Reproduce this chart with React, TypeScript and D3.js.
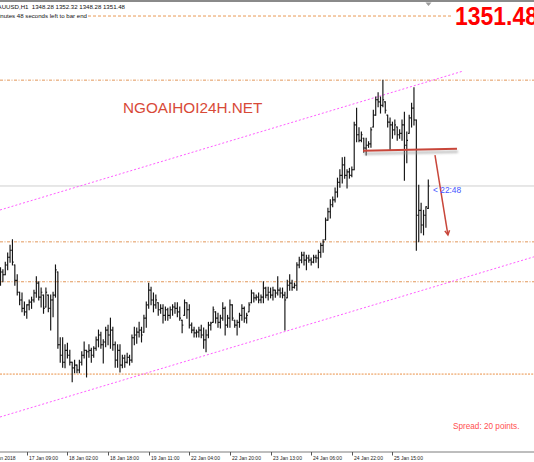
import React from 'react';
import * as d3 from 'd3';

const W = 534;
const H = 462;

const opens = [
  1338.0,1339.2,1338.8,1340.2,1341.3,1342.3,1340.2,1338.0,1336.3,1335.2,
  1334.0,1333.5,1334.5,1334.9,1335.2,1336.2,1337.6,1335.6,1335.9,1334.2,
  1335.9,1334.0,1335.2,1335.9,1339.2,1328.8,1327.3,1326.3,1328.0,1327.3,
  1326.3,1325.5,1325.9,1325.2,1326.3,1327.3,1328.0,1327.8,1328.0,1327.3,
  1328.3,1329.5,1330.2,1328.8,1329.2,1330.9,1330.2,
  1330.9,1328.8,1326.6,1328.0,1325.9,1326.9,1326.3,1327.0,1326.6,1329.8,
  1330.2,1330.6,1330.9,1330.6,1332.6,1334.5,1336.6,1335.2,1334.5,1334.8,
  1333.8,1334.0,1333.0,1333.8,1333.0,1333.8,1334.2,1334.0,1333.5,1332.3,
  1333.0,1334.8,1333.8,1331.6,1330.9,1330.5,1330.6,1330.9,1330.2,1329.5,
  1330.2,1331.6,
  1332.0,1333.5,1332.6,1332.0,1332.6,1334.0,1331.6,1332.6,1334.5,1332.3,
  1331.6,1332.0,1333.0,1334.0,1332.6,1333.5,1334.8,1336.2,1335.5,1335.6,
  1335.2,1335.6,1336.9,1335.9,1336.3,1335.9,1336.6,1336.2,1336.6,1336.2,
  1335.9,1335.5,1337.3,1337.6,1337.0,1337.3,1340.2,1340.9,1341.6,1340.9,
  1341.2,1340.9,1340.6,1341.3,1341.2,
  1342.0,1343.0,1343.8,1346.6,1347.8,1348.8,1349.5,1350.6,1352.0,1353.0,
  1354.5,1353.0,1353.5,1353.0,1353.8,1360.2,1358.8,1358.0,1358.3,1356.9,
  1357.3,1357.5,1359.9,1361.6,1363.8,1363.5,1363.0,1363.5,1361.6,1360.6,
  1360.2,1359.5,1359.9,1358.8,1359.0,1360.2,1357.3,1359.0,1361.2,1362.6,
  1360.9,1347.3,1348.0,1345.9,1347.3,1348.28,
];

const highs = [
  1339.8,1339.5,1340.6,1341.9,1343.0,1343.8,1340.2,1338.8,1336.3,1336.2,
  1334.9,1334.5,1335.2,1335.6,1336.6,1338.5,1337.8,1336.9,1335.9,1336.9,
  1335.9,1335.9,1336.3,1340.2,1339.2,1329.8,1329.8,1328.8,1329.0,1328.0,
  1326.3,1326.6,1325.9,1326.6,1327.8,1329.2,1328.0,1328.8,1328.3,1328.5,
  1329.9,1330.9,1330.6,1329.5,1331.3,1331.6,1332.6,
  1331.3,1329.2,1328.8,1328.8,1327.3,1327.3,1327.6,1327.3,1330.2,1331.3,
  1331.2,1332.0,1331.3,1333.0,1334.9,1337.6,1337.0,1336.2,1335.9,1334.8,
  1334.5,1334.5,1334.2,1334.0,1334.2,1334.5,1334.8,1334.8,1334.2,1332.3,
  1335.2,1334.8,1334.5,1331.9,1331.3,1330.9,1331.3,1331.6,1331.2,1330.9,
  1332.0,1332.0,
  1334.2,1333.5,1333.3,1333.0,1334.8,1334.2,1333.0,1335.2,1334.5,1332.3,
  1332.3,1333.3,1334.5,1334.2,1333.3,1334.8,1336.6,1336.2,1335.9,1336.2,
  1335.9,1337.8,1337.0,1337.0,1336.9,1337.0,1336.6,1338.5,1336.9,1336.9,
  1336.3,1338.0,1338.8,1338.0,1337.6,1340.5,1341.3,1342.0,1342.0,1341.6,
  1341.6,1341.2,1341.6,1341.6,1342.3,
  1343.3,1343.8,1346.9,1348.3,1349.5,1349.9,1351.2,1352.6,1353.8,1355.5,
  1355.6,1353.8,1354.0,1354.2,1360.6,1362.6,1359.8,1359.2,1358.3,1358.3,
  1357.8,1359.8,1362.3,1364.2,1364.8,1364.2,1366.6,1363.5,1361.6,1361.2,
  1360.6,1360.9,1359.9,1359.5,1360.9,1362.0,1359.2,1361.6,1363.3,1365.5,
  1360.9,1351.6,1349.0,1348.0,1348.5,1352.32,
];

const lows = [
  1337.3,1337.8,1338.8,1339.5,1340.6,1340.2,1337.3,1335.9,1334.5,1333.5,
  1333.0,1332.6,1333.8,1334.0,1334.9,1335.6,1335.2,1334.2,1333.3,1334.2,
  1333.5,1330.9,1332.8,1335.6,1328.3,1326.3,1325.6,1325.5,1326.9,1325.9,
  1323.5,1324.8,1324.8,1324.8,1325.9,1326.9,1324.2,1327.0,1326.3,1327.0,
  1328.0,1328.5,1328.3,1326.2,1328.5,1328.8,1328.3,
  1328.0,1325.6,1325.6,1324.9,1325.5,1325.6,1326.2,1325.9,1326.3,1328.8,
  1329.0,1329.9,1329.2,1330.6,1331.3,1334.0,1334.5,1333.5,1334.0,1333.0,
  1333.3,1331.9,1332.3,1332.3,1332.6,1333.0,1333.3,1332.8,1332.3,1330.5,
  1333.0,1332.6,1331.2,1330.5,1329.9,1329.9,1329.9,1329.8,1328.3,1327.8,
  1329.8,1330.9,
  1332.0,1331.9,1331.3,1331.2,1332.3,1330.2,1331.3,1331.3,1332.3,1331.3,
  1330.2,1331.3,1332.3,1332.0,1331.9,1333.5,1334.8,1334.9,1335.2,1334.8,
  1334.8,1334.8,1335.5,1335.2,1335.5,1335.2,1335.6,1335.9,1335.6,1335.5,
  1330.9,1335.5,1336.6,1336.6,1336.9,1336.6,1339.8,1340.5,1340.2,1339.5,
  1340.6,1340.2,1340.5,1340.6,1339.8,
  1341.3,1342.0,1343.8,1346.6,1346.9,1348.5,1349.2,1349.9,1351.3,1351.9,
  1352.6,1351.2,1352.6,1352.8,1353.8,1357.8,1357.8,1357.8,1356.3,1355.9,
  1357.0,1357.0,1359.9,1361.6,1362.8,1361.9,1362.8,1361.9,1359.9,1356.6,
  1358.3,1358.8,1358.0,1358.3,1358.0,1352.3,1354.8,1359.0,1359.9,1360.2,
  1342.3,1343.5,1344.8,1344.5,1345.6,1348.28,
];

const closes = [
  1339.2,1338.8,1340.2,1341.3,1342.3,1340.6,1338.0,1336.3,1335.2,1334.0,
  1333.5,1334.5,1334.9,1335.2,1336.2,1337.6,1335.6,1336.3,1334.0,1336.3,
  1334.0,1335.2,1335.9,1339.5,1328.8,1327.3,1326.3,1328.0,1327.3,1326.3,
  1325.5,1325.9,1325.2,1326.3,1327.3,1328.0,1327.8,1328.0,1327.3,1328.3,
  1329.5,1330.2,1328.8,1329.2,1330.9,1330.2,1330.9,
  1328.8,1326.6,1328.0,1325.9,1326.9,1326.3,1327.0,1326.6,1329.8,1330.2,
  1330.6,1330.9,1330.2,1332.6,1334.5,1336.6,1335.2,1334.5,1335.2,1333.8,
  1334.0,1333.0,1333.8,1333.0,1333.8,1334.2,1334.0,1333.5,1332.6,1331.6,
  1334.8,1333.8,1331.6,1330.9,1330.5,1330.6,1330.9,1330.2,1329.5,1330.2,
  1331.6,1331.9,
  1333.8,1332.6,1332.0,1332.6,1334.0,1331.6,1332.6,1334.5,1332.6,1331.6,
  1332.0,1333.0,1334.0,1332.6,1333.0,1334.5,1336.2,1335.5,1335.6,1335.2,
  1335.6,1336.9,1335.9,1336.3,1335.9,1336.6,1336.2,1336.6,1336.2,1335.9,
  1335.2,1337.3,1337.6,1337.0,1337.3,1340.2,1340.9,1341.6,1340.9,1341.2,
  1340.9,1340.6,1341.3,1341.2,1342.0,
  1343.0,1343.5,1346.6,1347.8,1348.8,1349.5,1350.6,1352.0,1353.0,1354.5,
  1353.0,1353.5,1353.0,1353.8,1360.2,1358.8,1358.0,1358.8,1356.9,1357.3,
  1357.5,1359.5,1361.6,1363.8,1363.5,1363.0,1363.8,1362.3,1360.6,1360.2,
  1359.5,1360.2,1358.8,1359.0,1360.2,1357.3,1358.0,1361.2,1362.6,1360.9,
  1347.3,1348.0,1345.9,1347.3,1348.5,1351.48,
];

const tickBars = [-6, 11, 28, 45, 62, 79, 96, 113, 130, 147, 164];
const tickLabels = [
  '16 Jan 2018', '17 Jan 09:00', '18 Jan 02:00', '18 Jan 18:00', '19 Jan 11:00',
  '22 Jan 04:00', '22 Jan 20:00', '23 Jan 13:00', '24 Jan 06:00', '24 Jan 22:00', '25 Jan 15:00',
];

const dashLevels = [1366.6, 1343.5, 1337.8];
const topLevel = 1375.76;
const lowLevel = 1324.6;
const bidPrice = 1351.48;

const channelUpper = [{ bar: -0.2, price: 1348.05 }, { bar: 193.1, price: 1367.85 }];
const channelLower = [{ bar: -0.2, price: 1318.48 }, { bar: 223.2, price: 1341.36 }];
const trendLine = [{ bar: 151.7, price: 1356.5 }, { bar: 191.0, price: 1356.8 }];
const arrowLine = [{ bar: 181.8, price: 1355.9 }, { bar: 187.2, price: 1344.5 }];

const titleText = 'XAUUSD,H1  1348.28 1352.32 1348.28 1351.48';
const timerText = '22 minutes 48 seconds left to bar end';

export default function App() {
  const xs = d3.scaleLinear().domain([0, opens.length - 1]).range([0.5, 428.3]);
  const ys = d3.scaleLinear().domain([1313.48, 1377.62]).range([452, 3]);
  const line = d3
    .line<{ bar: number; price: number }>()
    .x((d) => xs(d.bar))
    .y((d) => ys(d.price));

  const a0 = arrowLine[0];
  const a1 = arrowLine[1];
  const ax0 = xs(a0.bar), ay0 = ys(a0.price), ax1 = xs(a1.bar), ay1 = ys(a1.price);
  const ang = Math.atan2(ay1 - ay0, ax1 - ax0);
  const hl = 5;
  const head = [
    [ax1 - hl * Math.cos(ang - 0.5), ay1 - hl * Math.sin(ang - 0.5)],
    [ax1, ay1],
    [ax1 - hl * Math.cos(ang + 0.5), ay1 - hl * Math.sin(ang + 0.5)],
  ];

  const font = '"Liberation Sans", Arial, sans-serif';

  return (
    <div style={{ position: 'fixed', left: 0, top: 0, width: W, height: H }}>
      <svg width={W} height={H} style={{ display: 'block', background: '#fff' }}>
        <defs>
          <filter id="blur" x="-10%" y="-200%" width="120%" height="500%">
            <feGaussianBlur stdDeviation="1" />
          </filter>
        </defs>
        <rect x={0} y={0} width={W} height={H} fill="#fff" />
        {/* top border */}
        <line x1={0} x2={W} y1={1} y2={1} stroke="#8a8a8a" strokeWidth={2} />
        <path d="M425.5,2.5 L431.5,2.5 L428.5,6 Z" fill="#9a9a9a" />

        {/* horizontal levels */}
        <line x1={88} x2={453} y1={ys(topLevel)} y2={ys(topLevel)} stroke="#e99a55" strokeDasharray="3,2" strokeWidth={1} />
        {dashLevels.map((p, i) => (
          <line key={i} x1={0} x2={W} y1={ys(p)} y2={ys(p)} stroke="#e2975a" strokeDasharray="3,1.5,1,1.5" strokeWidth={1} />
        ))}
        <line x1={0} x2={W} y1={ys(lowLevel)} y2={ys(lowLevel)} stroke="#f3c095" strokeDasharray="2,1.2" strokeWidth={1.6} />

        {/* bid line */}
        <line x1={0} x2={W} y1={ys(bidPrice)} y2={ys(bidPrice)} stroke="#cfcfcf" strokeWidth={1} />

        {/* channel */}
        <path d={line(channelUpper) || ''} stroke="#ff5cff" strokeDasharray="2,2" strokeWidth={1} fill="none" />
        <path d={line(channelLower) || ''} stroke="#ff5cff" strokeDasharray="2,2" strokeWidth={1} fill="none" />

        {/* bars */}
        <g stroke="#141414" strokeWidth={1.15}>
          {opens.map((o, i) => {
            const x = xs(i);
            return (
              <g key={i}>
                <line x1={x} x2={x} y1={ys(highs[i]) - 0.5} y2={ys(lows[i]) + 0.5} />
                <line x1={x - 1.2} x2={x} y1={ys(o)} y2={ys(o)} />
                <line x1={x} x2={x + 1.2} y1={ys(closes[i])} y2={ys(closes[i])} />
              </g>
            );
          })}
        </g>

        {/* trend line with shadow */}
        <path
          d={line(trendLine) || ''}
          transform="translate(1,3)"
          stroke="#9a9a9a"
          strokeOpacity={0.6}
          strokeWidth={2.5}
          fill="none"
          filter="url(#blur)"
        />
        <path d={line(trendLine) || ''} stroke="#c8463a" strokeWidth={2} fill="none" />

        {/* arrow */}
        <line x1={ax0} y1={ay0} x2={ax1} y2={ay1} stroke="#c8463a" strokeWidth={1.5} />
        <polyline points={head.map((p) => p.join(',')).join(' ')} stroke="#c8463a" strokeWidth={1.5} fill="none" />

        {/* texts */}
        <text x={125} y={9} textAnchor="end" fontFamily={font} fontSize={6.1} fill="#111" xmlSpace="preserve">
          {titleText}
        </text>
        <text x={87} y={17.5} textAnchor="end" fontFamily={font} fontSize={6.1} fill="#111">
          {timerText}
        </text>
        <text
          transform="translate(455,25) scale(0.9,1)"
          fontFamily={font}
          fontSize={25.5}
          fontWeight="bold"
          fill="#ff0000"
        >
          {bidPrice.toFixed(2)}
        </text>
        <text x={123} y={113} fontFamily={font} fontSize={15.3} fill="#d84a38">
          NGOAIHOI24H.NET
        </text>
        <text x={433} y={193} fontFamily={font} fontSize={8.4} fill="#4455ff">
          {'< 22:48'}
        </text>
        <text x={453} y={429} fontFamily={font} fontSize={8.2} fill="#ff4f4f">
          Spread: 20 points.
        </text>

        {/* x axis */}
        <line x1={0} x2={W} y1={452} y2={452} stroke="#7d7d7d" strokeWidth={1} />
        {tickBars.map((b, i) => {
          const x = Math.round(xs(b)) + 0.5;
          return (
            <g key={i}>
              <line x1={x} x2={x} y1={452} y2={455.5} stroke="#555" strokeWidth={1} />
              <text x={x + 1.5} y={459.5} fontFamily={font} fontSize={5} fill="#222">
                {tickLabels[i]}
              </text>
            </g>
          );
        })}
      </svg>
    </div>
  );
}
